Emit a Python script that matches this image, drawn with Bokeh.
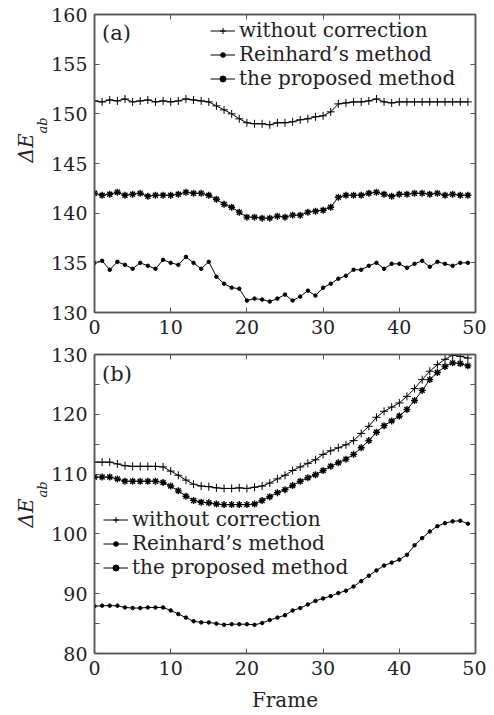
from bokeh.plotting import figure
from bokeh.layouts import column
from bokeh.models import (Range1d, FixedTicker, LinearAxis, Label, Legend, Title,
                          CustomJSTickFormatter)
from bokeh.embed import file_html
from bokeh.resources import INLINE

frames = list(range(50))

a_without = [151.3, 151.2, 151.4, 151.3, 151.5, 151.2, 151.3, 151.4, 151.2, 151.3,
             151.2, 151.3, 151.5, 151.4, 151.3, 151.2, 150.8, 150.4, 150.0, 149.5,
             149.1, 149.0, 149.0, 148.9, 149.1, 149.1, 149.2, 149.4, 149.5, 149.7,
             149.8, 150.2, 151.0, 151.1, 151.2, 151.2, 151.3, 151.5, 151.2, 151.1,
             151.2, 151.2, 151.2, 151.2, 151.2, 151.2, 151.2, 151.2, 151.2, 151.2]
a_reinhard = [142.0, 141.8, 141.9, 142.1, 141.8, 141.9, 142.0, 141.7, 141.8, 141.8,
              141.8, 141.9, 142.1, 142.0, 142.0, 141.8, 141.4, 140.9, 140.6, 140.1,
              139.6, 139.6, 139.5, 139.5, 139.7, 139.6, 139.8, 139.8, 140.1, 140.2,
              140.3, 140.6, 141.6, 141.8, 141.8, 141.8, 142.0, 142.1, 141.9, 141.7,
              141.9, 141.9, 142.0, 142.0, 141.9, 142.0, 141.8, 141.9, 141.8, 141.8]
a_proposed = [135.0, 135.2, 134.3, 135.1, 134.8, 134.4, 135.0, 134.7, 134.4, 135.3,
              135.0, 134.8, 135.6, 135.0, 134.4, 135.1, 133.6, 132.9, 132.5, 132.4,
              131.2, 131.4, 131.3, 131.1, 131.4, 131.8, 131.2, 131.6, 132.2, 131.7,
              132.5, 132.9, 133.4, 133.7, 134.3, 134.3, 134.7, 135.0, 134.4, 134.9,
              134.9, 134.5, 134.9, 135.2, 134.6, 135.1, 134.9, 134.7, 135.0, 135.0]

b_without = [112.0, 112.0, 112.0, 111.7, 111.4, 111.3, 111.3, 111.3, 111.3, 111.2,
             110.5, 109.8, 109.0, 108.3, 108.0, 107.9, 107.7, 107.6, 107.6, 107.7,
             107.6, 107.8, 108.0, 108.5, 109.2, 109.8, 110.6, 111.2, 111.8, 112.4,
             113.3, 113.9, 114.4, 114.9, 115.6, 116.8, 118.0, 119.5, 120.5, 121.2,
             121.9, 123.0, 124.3, 125.8, 127.2, 128.3, 129.2, 129.9, 129.7, 129.4]
b_reinhard = [109.5, 109.5, 109.5, 109.2, 108.8, 108.8, 108.8, 108.8, 108.8, 108.6,
              108.0, 107.2, 106.3, 105.6, 105.3, 105.2, 105.0, 104.9, 104.9, 104.9,
              104.9, 105.0, 105.6, 106.2, 106.9, 107.4, 108.1, 108.8, 109.4, 109.9,
              110.6, 111.3, 111.9, 112.5, 113.3, 114.4, 115.6, 117.0, 118.1, 118.9,
              119.7, 120.8, 122.3, 124.0, 125.8, 127.0, 128.0, 128.6, 128.5, 128.1]
b_proposed = [87.9, 88.0, 88.0, 88.0, 87.7, 87.6, 87.6, 87.7, 87.7, 87.7,
              87.2, 86.6, 86.0, 85.4, 85.2, 85.2, 85.0, 84.8, 84.9, 84.9,
              84.9, 84.8, 85.1, 85.6, 86.0, 86.4, 87.2, 87.6, 88.2, 88.8,
              89.2, 89.6, 90.1, 90.5, 91.2, 92.1, 93.0, 93.9, 94.7, 95.2,
              95.7, 96.5, 98.1, 99.3, 100.4, 101.3, 101.8, 102.1, 102.2, 101.7]

x_ticks = [0, 10, 20, 30, 40, 50]
a_yticks = [130, 135, 140, 145, 150, 155, 160]
b_yticks = [80, 90, 100, 110, 120, 130]
b_yminor = [85, 95, 105, 115, 125]

labels = ["without correction", "Reinhard\u2019s method", "the proposed method"]

FONT = "DejaVu Serif"
FS = "19px"
GRAY = "#555555"


def style_axis(ax, show_labels=True):
    ax.axis_line_color = GRAY
    ax.axis_line_width = 1.5
    ax.major_tick_line_color = GRAY
    ax.minor_tick_line_color = GRAY
    ax.major_tick_in = 5
    ax.major_tick_out = 0
    ax.minor_tick_in = 5
    ax.minor_tick_out = 0
    ax.major_label_text_font = FONT
    ax.major_label_text_font_size = FS
    ax.major_label_text_color = "#222222"
    ax.major_label_standoff = 7
    if not show_labels:
        ax.formatter = CustomJSTickFormatter(code="return ''")
        ax.major_label_standoff = 0


def make_panel(height, top_border, bottom_border, ylo, yhi, yticks, yminor,
               s1, s2, s3, tag, tag_y, leg_x, leg_ys, xlabel=None):
    p = figure(width=486, height=height, output_backend="svg", toolbar_location=None,
               x_range=Range1d(0, 50), y_range=Range1d(ylo, yhi),
               min_border_left=94, min_border_right=11, min_border_top=top_border,
               min_border_bottom=bottom_border)
    p.grid.visible = False
    p.outline_line_color = GRAY
    p.outline_line_width = 1.5
    p.background_fill_color = "white"
    p.border_fill_color = "white"

    p.xaxis.ticker = FixedTicker(ticks=x_ticks)
    p.yaxis.ticker = FixedTicker(ticks=yticks, minor_ticks=yminor)
    style_axis(p.xaxis[0])
    style_axis(p.yaxis[0])
    if xlabel:
        p.xaxis.axis_label = xlabel
        p.xaxis.axis_label_text_font = FONT
        p.xaxis.axis_label_text_font_size = "20px"
        p.xaxis.axis_label_text_font_style = "normal"
        p.xaxis.axis_label_text_color = "#222222"
        p.xaxis.axis_label_standoff = 10
    top_ax = LinearAxis(ticker=FixedTicker(ticks=x_ticks))
    style_axis(top_ax, False)
    p.add_layout(top_ax, "above")
    right_ax = LinearAxis(ticker=FixedTicker(ticks=yticks, minor_ticks=yminor))
    style_axis(right_ax, False)
    p.add_layout(right_ax, "right")

    r1l = p.line(frames, s1, line_color="black", line_width=1)
    r1m = p.scatter(frames, s1, marker="cross", size=8, line_color="black", line_width=1)
    r2l = p.line(frames, s2, line_color="black", line_width=1)
    r2m = p.scatter(frames, s2, marker="asterisk", size=7, line_color="black", line_width=1.4)
    r3l = p.line(frames, s3, line_color="black", line_width=1)
    r3m = p.scatter(frames, s3, marker="circle", size=3.5, line_color="black",
                    fill_color="black")

    groups = [[r1l, r1m], [r2l, r2m], [r3l, r3m]]
    for lab, rends, ly in zip(labels, groups, leg_ys):
        leg = Legend(items=[(lab, rends)], location=(leg_x, ly))
        leg.label_text_font = FONT
        leg.label_text_font_size = "20px"
        leg.label_text_color = "#222222"
        leg.label_height = 19
        leg.glyph_height = 15
        leg.glyph_width = 25
        leg.label_standoff = 4
        leg.padding = 2
        leg.margin = 0
        leg.border_line_color = None
        leg.background_fill_alpha = 0
        p.add_layout(leg, "center")

    p.add_layout(Label(x=1.0, y=tag_y, text=tag, text_font=FONT, text_font_size="21px",
                       text_color="#222222", text_baseline="middle", text_align="left"))
    return p


def add_ylabel(p, off_main, off_sub):
    # subscript "ab" sits next to the frame side, "ΔE" further out
    p.add_layout(Title(text="ab", text_font=FONT, text_font_size="13px",
                       text_font_style="italic", text_color="#222222",
                       align="left", offset=off_sub, standoff=-6,
                       vertical_align="top"), "left")
    p.add_layout(Title(text="\u0394E", text_font=FONT, text_font_size="20px",
                       text_font_style="italic", text_color="#222222",
                       align="left", offset=off_main, standoff=0,
                       vertical_align="bottom"), "left")


pa = make_panel(344, 14, 32, 130, 160, a_yticks, [], a_without, a_reinhard,
                a_proposed, "(a)", 158.1, 116, [270, 246, 222])
add_ylabel(pa, 150, 179)

pb = make_panel(371, 10, 62, 80, 130, b_yticks, b_yminor, b_without, b_reinhard,
                b_proposed, "(b)", 126.8, 9, [122, 98, 74], xlabel="Frame")
add_ylabel(pb, 126, 156)

layout = column(pa, pb, spacing=0)
open("out.html", "w").write(file_html(layout, INLINE))
